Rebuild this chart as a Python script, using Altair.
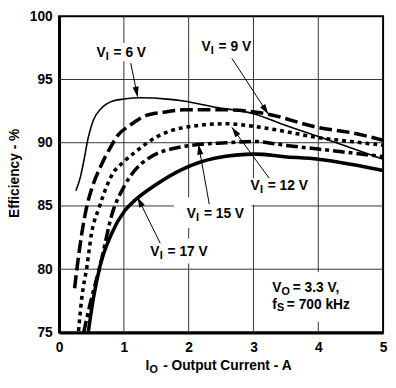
import math
import altair as alt
import pandas as pd

# ---- curve data (I in A, efficiency in %) ----
I6 = [0.26, 0.33, 0.38, 0.45, 0.53, 0.65, 0.83, 1.0, 1.26, 1.67, 1.92, 2.42, 3.0, 3.48, 4.0, 4.5, 5.0]
E6 = [86.2, 87.3, 88.5, 90.4, 91.8, 92.7, 93.3, 93.45, 93.55, 93.45, 93.3, 92.8, 92.3, 91.4, 90.5, 89.6, 88.7]

I9 = [0.24, 0.28, 0.35, 0.43, 0.5, 0.64, 0.8, 0.91, 1.1, 1.32, 1.6, 1.92, 2.58, 3.18, 4.0, 4.5, 5.0]
E9 = [78.5, 80.2, 82.8, 85.0, 86.3, 88.1, 89.7, 90.6, 91.4, 92.1, 92.4, 92.6, 92.6, 92.3, 91.2, 90.8, 90.2]

I12 = [0.3, 0.35, 0.43, 0.5, 0.62, 0.81, 1.0, 1.16, 1.52, 1.92, 2.58, 3.0, 3.48, 4.0, 4.5, 5.0]
E12 = [75.1, 77.7, 80.2, 82.8, 84.9, 87.4, 88.5, 89.2, 90.5, 91.2, 91.5, 91.3, 90.9, 90.4, 90.1, 89.8]

I15 = [0.38, 0.5, 0.63, 0.82, 1.01, 1.36, 1.92, 2.58, 3.03, 3.48, 4.0, 4.5, 5.0]
E15 = [75.0, 77.7, 80.2, 84.4, 86.6, 88.7, 89.7, 90.0, 90.1, 89.8, 89.5, 89.2, 88.9]

I17 = [0.45, 0.53, 0.63, 0.81, 1.01, 1.16, 1.47, 1.9, 2.42, 3.03, 3.48, 4.0, 4.5, 5.0]
E17 = [75.0, 77.7, 80.2, 82.8, 84.6, 85.4, 86.6, 87.9, 88.8, 89.1, 88.9, 88.7, 88.3, 87.8]

# ---- grid segments (grid lines are interrupted behind the labels) ----
grid_x1 = [1, 1, 2, 2, 2, 3, 3, 4, 4, 0, 0, 2.97, 0, 0]
grid_x2 = [1, 1, 2, 2, 2, 3, 3, 4, 4, 5, 1.773, 5, 5, 5]
grid_y1 = [75, 97.88, 75, 82.42, 85.68, 75, 87.2, 75, 79.77, 80, 85, 85, 90, 95]
grid_y2 = [96.44, 100, 80.45, 83.26, 100, 85.08, 100, 75.83, 100, 80, 85, 85, 90, 95]

# ---- annotation labels ("V" + subscript "I" + rest) ----
lab_rest = ["= 6 V", "= 9 V", "= 12 V", "= 15 V", "= 17 V"]
lab_I = [0.576, 2.197, 2.955, 1.97, 1.409]
lab_E = [97.12, 97.58, 86.59, 84.32, 81.36]

cond_I = [3.288]
cond_E_vo = [78.48]
cond_E_fs = [77.20]

# arrows: start -> tip
arr_I1 = [1.106, 2.667, 3.242, 2.318, 1.561]
arr_E1 = [96.29, 96.67, 87.2, 85.15, 82.05]
arr_I2 = [1.212, 3.227, 2.667, 2.152, 1.212]
arr_E2 = [93.64, 92.27, 91.21, 89.85, 85.68]

FONT = "Liberation Sans"
W, H = 330, 322
SX, SY = W / 5.0, H / 25.0

xs = alt.Scale(domain=[0, 5], nice=False, zero=False)
ys = alt.Scale(domain=[75, 100], nice=False, zero=False)
xaxis = alt.Axis(values=[0, 1, 2, 3, 4, 5], title="", grid=False,
                 ticks=False, domain=True, domainColor="black", domainWidth=3,
                 labelFont=FONT, labelFontSize=14, labelFontWeight="bold", labelColor="black",
                 labelPadding=8, format="d", labelFlush=False)
yaxis = alt.Axis(values=[75, 80, 85, 90, 95, 100], title="", grid=False,
                 ticks=False, domain=True, domainColor="black", domainWidth=3,
                 labelFont=FONT, labelFontSize=14, labelFontWeight="bold", labelColor="black",
                 labelPadding=7, format="d", labelFlush=False)
X = alt.X("I:Q", scale=xs, axis=xaxis)
Y = alt.Y("E:Q", scale=ys, axis=yaxis)

layers = []

grid = pd.DataFrame({"I": grid_x1, "I2": grid_x2, "E": grid_y1, "E2": grid_y2})
layers.append(alt.Chart(grid).mark_rule(color="#333333", strokeWidth=1).encode(
    x=X, x2="I2:Q", y=Y, y2="E2:Q"))

series = [
    (I6, E6, 1.6, None),
    (I9, E9, 3.6, [13, 5]),
    (I12, E12, 3.6, [4, 4]),
    (I15, E15, 3.6, [12, 4, 4, 4]),
    (I17, E17, 3.6, None),
]
for xi, yi, w, dash in series:
    df = pd.DataFrame({"I": xi, "E": yi})
    kw = dict(interpolate="monotone", clip=True, color="black", strokeWidth=w, strokeCap="butt")
    if dash is not None:
        kw["strokeDash"] = dash
    layers.append(alt.Chart(df).mark_line(**kw).encode(x=X, y=Y))

arrows = pd.DataFrame({"I": arr_I1, "E": arr_E1, "I2": arr_I2, "E2": arr_E2})
layers.append(alt.Chart(arrows).mark_rule(color="black", strokeWidth=1).encode(
    x=X, y=Y, x2="I2:Q", y2="E2:Q"))

# arrow heads
hx, hy, ha = [], [], []
for a, b, c, d in zip(arr_I1, arr_E1, arr_I2, arr_E2):
    dxp = (c - a) * SX
    dyp = -(d - b) * SY
    L = math.hypot(dxp, dyp)
    ux, uy = dxp / L, dyp / L
    hx.append(c - ux * 5 / SX)
    hy.append(d + uy * 5 / SY)
    ha.append(math.degrees(math.atan2(dxp, -dyp)) % 360)
heads = pd.DataFrame({"I": hx, "E": hy, "ang": ha})
layers.append(alt.Chart(heads).mark_point(
    shape="M0,-1L0.6,1L-0.6,1Z", size=110, filled=True, color="black", opacity=1
).encode(x=X, y=Y, angle=alt.Angle("ang:Q", scale=None)))

tstyle = dict(align="left", baseline="middle", font=FONT, fontWeight="bold", color="black")

labs = pd.DataFrame({"I": lab_I, "E": lab_E, "rest": lab_rest, "v": ["V"] * 5, "s": ["I"] * 5})
layers.append(alt.Chart(labs).mark_text(fontSize=14, **tstyle).encode(x=X, y=Y, text="v:N"))
layers.append(alt.Chart(labs).mark_text(fontSize=11, dx=9.5, dy=4, **tstyle).encode(x=X, y=Y, text="s:N"))
layers.append(alt.Chart(labs).mark_text(fontSize=14, dx=17.5, **tstyle).encode(x=X, y=Y, text="rest:N"))

vo = pd.DataFrame({"I": cond_I, "E": cond_E_vo, "a": ["V"], "s": ["O"], "r": ["= 3.3 V,"]})
layers.append(alt.Chart(vo).mark_text(fontSize=14, **tstyle).encode(x=X, y=Y, text="a:N"))
layers.append(alt.Chart(vo).mark_text(fontSize=11, dx=9.5, dy=4, **tstyle).encode(x=X, y=Y, text="s:N"))
layers.append(alt.Chart(vo).mark_text(fontSize=14, dx=21, **tstyle).encode(x=X, y=Y, text="r:N"))

fs = pd.DataFrame({"I": cond_I, "E": cond_E_fs, "a": ["f"], "s": ["S"], "r": ["= 700 kHz"]})
layers.append(alt.Chart(fs).mark_text(fontSize=14, **tstyle).encode(x=X, y=Y, text="a:N"))
layers.append(alt.Chart(fs).mark_text(fontSize=11, dx=5, dy=4, **tstyle).encode(x=X, y=Y, text="s:N"))
layers.append(alt.Chart(fs).mark_text(fontSize=14, dx=15, **tstyle).encode(x=X, y=Y, text="r:N"))

# x-axis title with subscript
xt = pd.DataFrame({"a": ["I"], "s": ["O"], "r": ["- Output Current - A"]})
layers.append(alt.Chart(xt).mark_text(fontSize=14, **tstyle).encode(
    x=alt.value(88), y=alt.value(356), text="a:N"))
layers.append(alt.Chart(xt).mark_text(fontSize=11, **tstyle).encode(
    x=alt.value(92), y=alt.value(360), text="s:N"))
layers.append(alt.Chart(xt).mark_text(fontSize=14, **tstyle).encode(
    x=alt.value(106), y=alt.value(356), text="r:N"))

# y-axis title as rotated text
yt = pd.DataFrame({"t": ["Ef\u200cficiency - %"]})
layers.append(alt.Chart(yt).mark_text(
    fontSize=14, font=FONT, fontWeight="bold", color="black", angle=270,
    align="center", baseline="middle"
).encode(x=alt.value(-45), y=alt.value(160), text="t:N"))

chart = alt.layer(*layers).properties(
    width=W, height=H,
    autosize=alt.AutoSizeParams(type="none"),
    padding={"left": 52, "top": 5, "right": 5, "bottom": 43},
    background="white",
).configure_view(stroke="black", strokeWidth=2)

chart.save("out.html", embed_options={"renderer": "svg", "actions": False})
